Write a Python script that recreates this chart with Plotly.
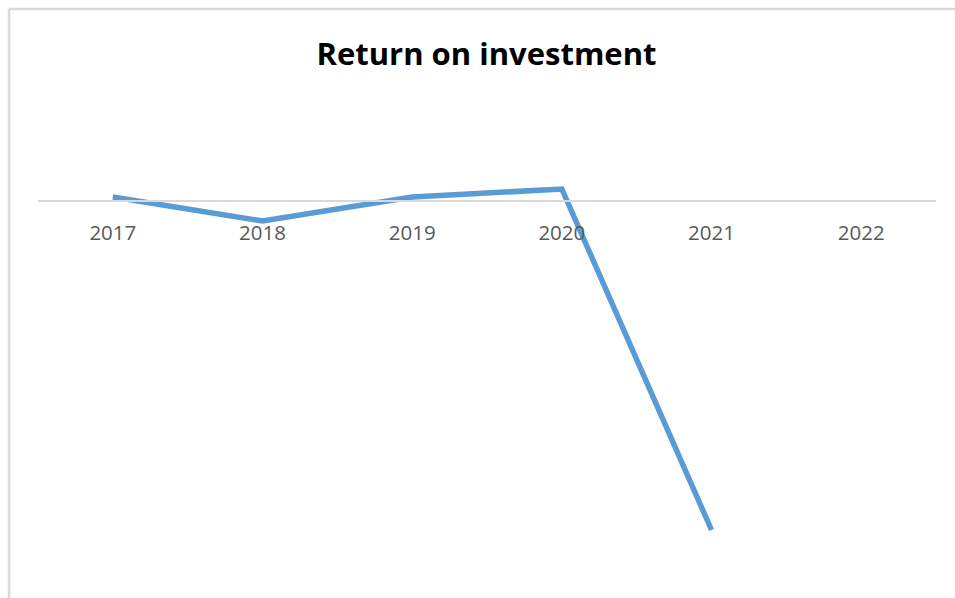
import plotly.graph_objects as go

# Return on investment by year (%), 2022 not yet reported
years = ["2017", "2018", "2019", "2020", "2021", "2022"]
roi = [0.4, -2.0, 0.4, 1.2, -32.9, None]

W, H = 955, 598
left, right, top, bottom = 38, 936, 95, 565
y_min, y_max = -36.4, 10.6

fig = go.Figure()
fig.add_trace(go.Scatter(
    x=years, y=roi, mode="lines",
    line=dict(color="#5b9bd5", width=5.5),
    connectgaps=False, hoverinfo="x+y",
))

zero_pos = (0 - y_min) / (y_max - y_min)
pw, ph = right - left, bottom - top

fig.update_layout(
    width=W, height=H,
    margin=dict(l=left, r=W - right, t=top, b=H - bottom, pad=0),
    paper_bgcolor="white", plot_bgcolor="white",
    showlegend=False,
    title=dict(
        text="<b>Return on investment</b>",
        xref="container", x=486.5 / W, xanchor="center",
        y=(H - 54) / H, yanchor="middle",
        font=dict(family="Open Sans", size=31, color="#000000"),
    ),
    xaxis=dict(
        type="category", range=[-0.5, 5.5],
        anchor="free", position=zero_pos,
        showline=True, linecolor="#d9d9d9", linewidth=2,
        showgrid=False, zeroline=False, ticks="",
        tickfont=dict(family="Open Sans", size=20.5, color="#595959"),
        ticklabelstandoff=13,
    ),
    yaxis=dict(
        range=[y_min, y_max], visible=False,
        showgrid=False, zeroline=False,
    ),
    shapes=[
        # outer chart frame (top and left edges)
        dict(type="line", xref="paper", yref="paper",
             x0=(9 - left) / pw, x1=(W + 5 - left) / pw,
             y0=(bottom - 9) / ph, y1=(bottom - 9) / ph,
             line=dict(color="#d9d9d9", width=2.5)),
        dict(type="line", xref="paper", yref="paper",
             x0=(9 - left) / pw, x1=(9 - left) / pw,
             y0=(bottom - 9) / ph, y1=(bottom - H - 5) / ph,
             line=dict(color="#d9d9d9", width=2.5)),
    ],
)

fig.write_html("out.html")
